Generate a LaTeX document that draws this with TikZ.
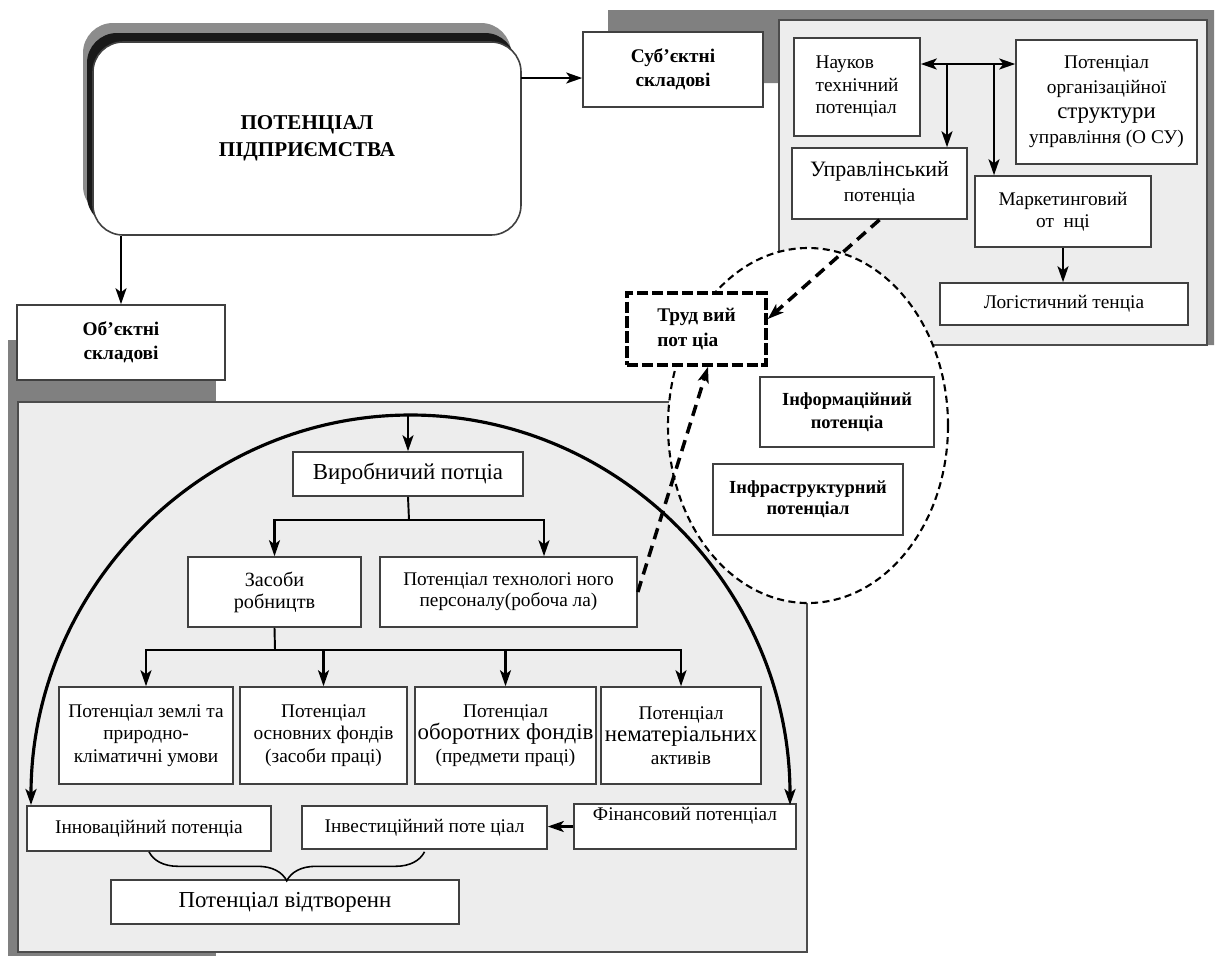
\documentclass[tikz,border=0pt]{standalone}
\usepackage{fontspec}
\setmainfont{Liberation Serif}
\usetikzlibrary{arrows.meta, decorations.pathreplacing}

\newcommand{\fsz}[2]{\fontsize{#1}{#2}\selectfont}

\begin{document}
\begin{tikzpicture}[x=0.2mm, y=-0.2mm,
        >={Stealth[length=3.2mm, width=2.2mm, inset=0.8mm]},
        box/.style={draw=black!75, line width=0.9pt, fill=white, align=center, inner sep=1pt},
        boldbox/.style={box, font=\bfseries\fsz{11}{13.5}},
        txt/.style={font=\fsz{11}{12.8}},
        link/.style={line width=1.3pt, ->},
        bond/.style={line width=1.1pt},
        dasharrow/.style={line width=2pt, dash pattern=on 6.5pt off 4pt, ->},
        panel/.style={fill=black!7, draw=black!70, line width=1pt},
        shadowfill/.style={fill=black!50}]

    \useasboundingbox (0,0) rectangle (1216,956);

    % panels and their shadows
    \fill[shadowfill] (608,10) -- (1214,10) -- (1214,345) -- (779,345) -- (779,83) -- (608,83) -- cycle;
    \draw[panel] (779,20) rectangle (1207,345);
    \fill[shadowfill] (8,340) rectangle (216,956);
    \draw[panel] (18,402) rectangle (807,952);

    % main block
    \fill[black!45, rounded corners=6mm] (83,23) rectangle (511,216);
    \fill[black!90, rounded corners=6mm] (87,33) rectangle (515,226);
    \node[box, rounded corners=6mm, minimum width=85.6mm, minimum height=38.6mm,
        font=\bfseries\fsz{12}{15.4}] (main) at (307,138.5) {ПОТЕНЦІАЛ\\ПІДПРИЄМСТВА};

    \node[boldbox, minimum width=36mm, minimum height=15mm] (subj) at (673,69.5) {Суб’єктні\\складові};
    \node[boldbox, minimum width=41.6mm, minimum height=15mm] (obj) at (121,342.5) {Об’єктні\\складові};

    \coordinate (mainout) at (521,78);
    \draw[link] (mainout) -- (mainout -| subj.west);
    \draw[link] (obj.north |- main.south) -- (obj.north);

    % subjective part
    \node[box, txt, align=left, minimum width=25.2mm, minimum height=19.6mm] (nauk) at (857,87) {Науков\\технічний\\потенціал};
    \node[box, font=\fsz{11}{14.2}, minimum width=36.2mm, minimum height=24.8mm] (osu) at (1106.5,102)
        {Потенціал\\організаційної\\{\fsz{13}{14.2}структури}\\управління (О СУ)};
    \node[box, font=\fsz{11}{14.2}, minimum width=35mm, minimum height=14.2mm] (upr) at (879.5,183.5)
        {{\fsz{12.5}{14.2}Управлінський}\\потенціа};
    \node[box, txt, minimum width=35.2mm, minimum height=14.2mm] (mark) at (1063,211.5) {Маркетинговий\\от\ \ нці};
    \node[box, txt, minimum width=49.6mm, minimum height=8.4mm] (logi) at (1064,304) {Логістичний тенціа};

    \coordinate (hubA) at (947,64);
    \coordinate (hubB) at (994,64);
    \draw[link, <->] (nauk.east |- hubA) -- (osu.west |- hubA);
    \draw[link] (hubA) -- (hubA |- upr.north);
    \draw[link] (hubB) -- (hubB |- mark.north);
    \draw[link] (mark.south) -- (mark.south |- logi.north);

    % dashed group
    \draw[line width=1.2pt, dash pattern=on 4pt off 2.5pt, fill=white] (808,425.5) ellipse [x radius=28mm, y radius=35.5mm];
    \node[boldbox, font=\bfseries\fsz{10.5}{13}, minimum width=34.8mm, minimum height=14mm] (info) at (847,412) {Інформаційний\\потенціа};
    \node[boldbox, font=\bfseries\fsz{10.5}{12}, minimum width=38mm, minimum height=14.2mm] (infra) at (808,499.5) {Інфраструктурний\\потенціал};
    \node[box, draw=black, line width=2pt, dash pattern=on 6.5pt off 2pt, align=left, font=\bfseries\fsz{11}{14.2},
        minimum width=27.8mm, minimum height=14.4mm] (trud) at (696.5,329) {Труд вий\\пот ціа};

    % objective part
    \node[box, font=\fsz{13}{15}, minimum width=46mm, minimum height=8.8mm] (vyrob) at (408,474) {Виробничий потціа};
    \node[box, font=\fsz{11.5}{12.5}, minimum width=34.6mm, minimum height=14mm] (zas) at (274.5,592) {Засоби\\робництв};
    \node[box, font=\fsz{11}{12}, minimum width=51.4mm, minimum height=14mm] (pers) at (508.5,592)
        {Потенціал технологі ного\\персоналу(робоча ла)};

    \node[box, txt, minimum width=34.8mm, minimum height=19.4mm] (land) at (146,735.5) {Потенціал землі та\\природно-\\кліматичні умови};
    \node[box, txt, minimum width=33.4mm, minimum height=19.4mm] (fixed) at (323.5,735.5) {Потенціал\\основних фондів\\(засоби праці)};
    \node[box, txt, inner xsep=0pt, minimum width=36.2mm, minimum height=19.4mm] (current) at (505.5,735.5)
        {Потенціал\\{\fsz{13}{12.8}оборотних фондів}\\(предмети праці)};
    \node[box, txt, inner xsep=0pt, minimum width=32mm, minimum height=19.4mm] (intang) at (681,735.5)
        {Потенціал\\{\fsz{13}{12.8}нематеріальних}\\активів};

    \node[box, txt, minimum width=48.8mm, minimum height=9mm] (innov) at (149,828.5) {Інноваційний потенціа};
    \node[box, txt, minimum width=49mm, minimum height=8.6mm] (inv) at (424.5,827.5) {Інвестиційний поте ціал};
    \node[box, txt, text depth=5mm, minimum width=44.4mm, minimum height=9mm] (fin) at (685,826.5) {Фінансовий потенціал};
    \node[box, font=\fsz{13}{15}, minimum width=69.6mm, minimum height=8.8mm] (vidt) at (285,902) {Потенціал відтворенн};

    \coordinate (archtop) at (408,415);
    \coordinate (forkA) at (409,520);
    \coordinate (forkB) at (275,650);
    \coordinate (arcL) at (31,805);

    \draw[line width=1.8pt, <->] (arcL) arc[start angle=180, end angle=0, x radius=75.9mm, y radius=78mm];

    \draw[link] (archtop) -- (vyrob.north);
    \draw[bond] (vyrob.south) -- (forkA);
    \draw[link] (forkA) -| (zas.north);
    \draw[link] (forkA) -| ([xshift=7.1mm]pers.north);
    \draw[bond] (zas.south) -- (forkB);
    \draw[link] (forkB) -| (land.north);
    \draw[link] (forkB) -| (fixed.north);
    \draw[link] (forkB) -| (current.north);
    \draw[link] (forkB) -| (intang.north);
    \draw[link] (fin.west) -- (fin.west -| inv.east);

    \draw[line width=0.9pt, decorate, decoration={brace, mirror, amplitude=5.8mm}] (innov.south) -- (innov.south -| inv.south);

    \draw[dasharrow] (upr.south) -- ([yshift=2mm]trud.east);
    \draw[dasharrow] (pers.east) -- ([xshift=2.3mm]trud.south);
\end{tikzpicture}
\end{document}
